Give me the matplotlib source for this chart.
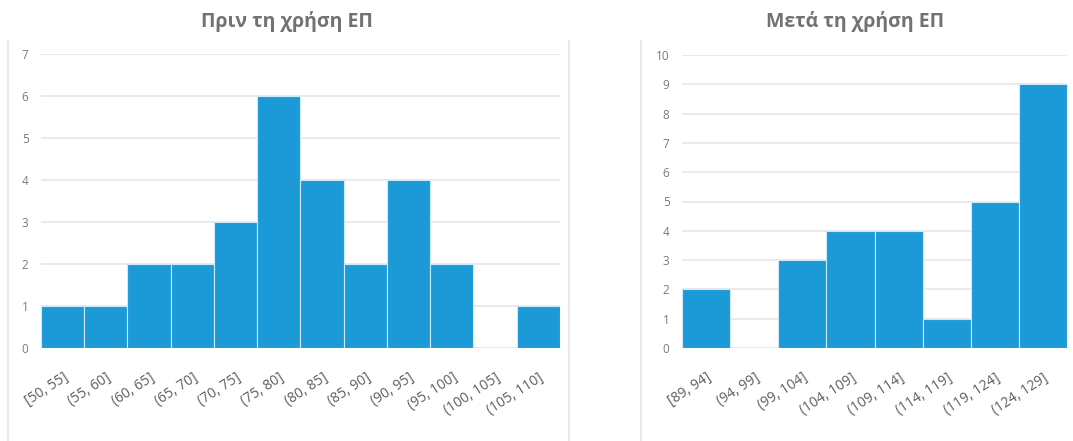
import matplotlib
matplotlib.use("Agg")
import matplotlib.pyplot as plt
from matplotlib.lines import Line2D

# score bins before / after, and how many students fell in each
before_bins = ["[50, 55]", "(55, 60]", "(60, 65]", "(65, 70]", "(70, 75]", "(75, 80]",
               "(80, 85]", "(85, 90]", "(90, 95]", "(95, 100]", "(100, 105]", "(105, 110]"]
before_counts = [1, 1, 2, 2, 3, 6, 4, 2, 4, 2, 0, 1]

after_bins = ["[89, 94]", "(94, 99]", "(99, 104]", "(104, 109]",
              "(109, 114]", "(114, 119]", "(119, 124]", "(124, 129]"]
after_counts = [2, 0, 3, 4, 4, 1, 5, 9]

BAR = "#1b9ad7"
GRID = "#e6e6e6"
TXT = "#5e5e5e"
YTXT = "#7a7a7a"
TITLE = "#727272"

plt.rcParams["font.family"] = ["Open Sans", "DejaVu Sans"]

W, H = 1073, 441
fig = plt.figure(figsize=(W / 100, H / 100), dpi=100)


def px_axes(x0, y_top, x1, y_bot):
    return fig.add_axes([x0 / W, 1 - y_bot / H, (x1 - x0) / W, (y_bot - y_top) / H])


def hist_panel(ax, labels, counts, ymax, title, title_x):
    x = range(len(counts))
    ax.bar(x, counts, width=1.0, color=BAR, edgecolor="#cfe9f6", linewidth=0.8, zorder=3)
    ax.set_xlim(-0.5, len(counts) - 0.5)
    ax.set_ylim(0, ymax)
    ax.set_yticks(range(ymax + 1))
    ax.set_yticklabels([str(v) for v in range(ymax + 1)])
    ax.grid(axis="y", color=GRID, linewidth=1.2, zorder=0)
    ax.set_xticks(list(x))
    ax.set_xticklabels(labels, rotation=33, ha="right", rotation_mode="anchor")
    ax.tick_params(axis="x", length=0, colors=TXT, labelsize=10, pad=16)
    ax.tick_params(axis="y", length=0, colors=YTXT, labelsize=8.5, pad=9)
    for s in ax.spines.values():
        s.set_visible(False)
    fig.text(title_x / W, 1 - 22 / H, title, ha="center", va="center",
             fontsize=14, fontweight="bold", color=TITLE)


ax1 = px_axes(41, 54, 560, 348)
hist_panel(ax1, before_bins, before_counts, 7, "Πριν τη χρήση ΕΠ", 287)

ax2 = px_axes(682, 55, 1067, 348)
hist_panel(ax2, after_bins, after_counts, 10, "Μετά τη χρήση ΕΠ", 855)

# light frame edges around the chart boxes
for xp in (8, 569, 641):
    fig.add_artist(Line2D([xp / W, xp / W], [0, 1 - 41 / H],
                          transform=fig.transFigure, color="#e8e8e8", linewidth=1.5))

fig.savefig("out.png", dpi=100)
